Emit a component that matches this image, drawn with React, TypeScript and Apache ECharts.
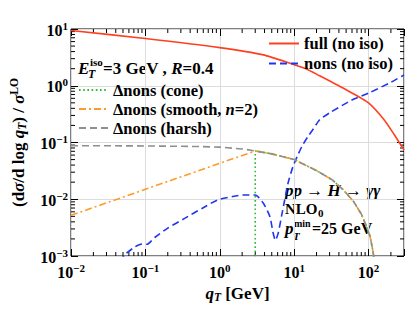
import React, { useEffect, useRef } from 'react';
import * as echarts from 'echarts';

const FONT = 'Liberation Serif, serif';

// ---- data ----
const qFull = [0.01, 0.1, 1, 3.86, 10, 14.4, 22, 50, 100, 163, 220, 300];
const vFull = [9.4, 6.8, 4.7, 3.5, 2.35, 2.0, 1.5, 0.85, 0.5, 0.25, 0.14, 0.074];

const qNons = [0.045, 0.054, 0.073, 0.09, 0.105, 0.135, 0.2, 0.337, 0.6, 0.93, 1.5, 2.09, 3.0, 3.86, 4.73, 5.2, 5.6, 6.1, 6.8, 7.46, 8.26, 9.6, 11.2, 13, 15.2, 17.7, 21.9, 29.6, 59.7, 100, 202, 300];
const vNons = [0.0008, 0.00108, 0.00146, 0.00163, 0.00161, 0.00214, 0.0031, 0.0046, 0.0071, 0.0097, 0.0112, 0.0119, 0.0119, 0.0085, 0.0049, 0.0026, 0.0019, 0.0025, 0.0052, 0.0097, 0.019, 0.037, 0.06, 0.09, 0.125, 0.166, 0.249, 0.33, 0.56, 0.74, 1.16, 1.55];

// common falling tail of the three Δnons curves (q > 3 GeV)
const qTail = [5, 10, 20, 32.5, 45, 63, 80, 94, 105, 115, 120];
const vTail = [0.063, 0.05, 0.032, 0.022, 0.015, 0.0091, 0.0055, 0.0033, 0.0022, 0.0012, 0.0008];

const qHarshHead = [0.01, 0.1, 0.5, 1, 2, 3];
const vHarshHead = [0.088, 0.087, 0.085, 0.083, 0.077, 0.071];

const qSmoothHead = [0.01, 0.1, 1, 3];
const vSmoothHead = [0.0052, 0.015, 0.043, 0.071];

const qConeHead = [3, 3];
const vConeHead = [0.0005, 0.071];

const xTickExps = [-2, -1, 0, 1, 2];
const yTickExps = [-3, -2, -1, 0, 1];

const X_MIN = 0.01;
const X_MAX = 300;
const Y_MIN = 0.001;
const Y_MAX = 10;

const zip = (q: number[], v: number[]) => q.map((x, i) => [x, v[i]]);

function supLabel(v: number, exps: number[]) {
  const l = Math.log10(v);
  const e = Math.round(l);
  if (Math.abs(l - e) > 1e-6 || exps.indexOf(e) < 0) return '';
  return `{m|10}{s|${e < 0 ? '\u2212' + -e : e}}`;
}

const tickRich = {
  m: { fontFamily: FONT, fontWeight: 'bold', fontSize: 16, lineHeight: 18, verticalAlign: 'bottom', color: '#000' },
  s: { fontFamily: FONT, fontWeight: 'bold', fontSize: 11, lineHeight: 9, verticalAlign: 'top', color: '#000' },
};

const nameRich = {
  b: { fontFamily: FONT, fontWeight: 'bold', fontSize: 17, lineHeight: 20, verticalAlign: 'middle', color: '#000' },
  i: { fontFamily: FONT, fontWeight: 'bold', fontStyle: 'italic', fontSize: 17, lineHeight: 20, verticalAlign: 'middle', color: '#000' },
  sub: { fontFamily: FONT, fontWeight: 'bold', fontStyle: 'italic', fontSize: 11.5, lineHeight: 9, verticalAlign: 'bottom', color: '#000' },
  sup: { fontFamily: FONT, fontWeight: 'bold', fontSize: 11.5, lineHeight: 9, verticalAlign: 'top', color: '#000' },
};

const minorX: number[] = [];
for (let e = -2; e <= 2; e++) for (let m = 2; m <= 9; m++) { const v = m * Math.pow(10, e); if (v < X_MAX * 0.999) minorX.push(v); }
const minorY: number[] = [];
for (let e = -3; e <= 0; e++) for (let m = 2; m <= 9; m++) minorY.push(m * Math.pow(10, e));

const tok = (size: number, italic: boolean) => ({
  fontFamily: FONT, fontWeight: 'bold', fontStyle: italic ? 'italic' : 'normal', fontSize: size,
  lineHeight: Math.round(size * 0.85), fill: '#000', color: '#000',
});

function gtext(x: number, y: number, text: string, size: number) {
  return {
    type: 'text', x, y, silent: true,
    style: {
      text, fontFamily: FONT, fontWeight: 'bold', fontSize: size, fill: '#000', verticalAlign: 'middle', align: 'left',
      lineHeight: Math.round(size * 0.85),
      rich: { b: tok(size, false), i: tok(size, true) },
    },
  };
}

export default function App() {
  const ref = useRef<HTMLDivElement>(null);
  useEffect(() => {
    if (!ref.current) return;
    const chart = echarts.init(ref.current, undefined, { renderer: 'svg' });
    const lineBase = { type: 'line', symbol: 'none', showSymbol: false, clip: true, xAxisIndex: 0, yAxisIndex: 0 };
    const tickStyle = { stroke: '#000', lineWidth: 1 };
    const LS = 16.5;
    const legendText = {
      fontFamily: FONT, fontWeight: 'bold', fontSize: LS, color: '#000',
      rich: {
        b: { fontFamily: FONT, fontWeight: 'bold', fontSize: LS, lineHeight: 17, color: '#000' },
        i: { fontFamily: FONT, fontWeight: 'bold', fontStyle: 'italic', fontSize: LS, lineHeight: 17, color: '#000' },
      },
    };
    const legendFmt = (name: string) => '{b|' + name.replace('n=2', '}{i|n}{b|=2') + '}';
    const option: any = {
      animation: false,
      backgroundColor: '#fff',
      textStyle: { fontFamily: FONT },
      grid: { left: 65, right: 3, top: 29, bottom: 53, show: true, borderColor: '#000', borderWidth: 1, backgroundColor: 'transparent' },
      xAxis: [
        {
          type: 'log', logBase: 10, min: X_MIN, max: X_MAX, position: 'bottom',
          axisLine: { show: false },
          axisTick: { show: true, inside: true, length: 7, lineStyle: { color: '#000' } },
          splitLine: { show: true, lineStyle: { color: '#dcdcdc', width: 1 } },
          axisLabel: { margin: 6, formatter: (v: number) => supLabel(v, xTickExps), rich: tickRich },
          name: '{i|q}{sub|T}{b| [GeV]}', nameLocation: 'middle', nameGap: 24,
          nameTextStyle: { rich: nameRich },
        },
        {
          type: 'log', logBase: 10, min: X_MIN, max: X_MAX, position: 'top',
          axisLine: { show: false }, splitLine: { show: false }, axisLabel: { show: false },
          axisTick: { show: true, inside: true, length: 7, lineStyle: { color: '#000' } },
        },
      ],
      yAxis: [
        {
          type: 'log', logBase: 10, min: Y_MIN, max: Y_MAX, position: 'left',
          axisLine: { show: false },
          axisTick: { show: true, inside: true, length: 7, lineStyle: { color: '#000' } },
          splitLine: { show: true, lineStyle: { color: '#dcdcdc', width: 1 } },
          axisLabel: { margin: 3, formatter: (v: number) => supLabel(v, yTickExps), rich: tickRich },
          name: '{b|(d}{i|\u03c3}{b|/d log }{i|q}{sub|T}{b|) / }{i|\u03c3}{sup|LO}',
          nameLocation: 'middle', nameRotate: 90, nameGap: 43,
          nameTextStyle: { rich: nameRich },
        },
        {
          type: 'log', logBase: 10, min: Y_MIN, max: Y_MAX, position: 'right',
          axisLine: { show: false }, splitLine: { show: false }, axisLabel: { show: false },
          axisTick: { show: true, inside: true, length: 7, lineStyle: { color: '#000' } },
        },
      ],
      legend: [
        {
          data: ['full (no iso)', 'nons (no iso)'], orient: 'vertical', left: 268, top: 35,
          itemWidth: 30, itemHeight: 14, itemGap: 3, selectedMode: false, padding: 0,
          itemStyle: { opacity: 0 },
          formatter: legendFmt,
          textStyle: legendText,
        },
        {
          data: ['\u0394nons (cone)', '\u0394nons (smooth, n=2)', '\u0394nons (harsh)'], orient: 'vertical', left: 78, top: 81.5,
          itemWidth: 29, itemHeight: 14, itemGap: 2, selectedMode: false, padding: 0,
          itemStyle: { opacity: 0 },
          formatter: legendFmt,
          textStyle: legendText,
        },
      ],
      series: [
        {
          type: 'custom', silent: true, xAxisIndex: 0, yAxisIndex: 0, clip: false,
          data: minorX.map((v) => [v, Y_MIN]),
          renderItem: (_p: any, api: any) => {
            const v = api.value(0);
            const b = api.coord([v, Y_MIN]);
            const t = api.coord([v, Y_MAX]);
            return {
              type: 'group', children: [
                { type: 'line', shape: { x1: b[0], y1: b[1], x2: b[0], y2: b[1] - 4 }, style: tickStyle },
                { type: 'line', shape: { x1: t[0], y1: t[1], x2: t[0], y2: t[1] + 4 }, style: tickStyle },
              ],
            };
          },
        },
        {
          type: 'custom', silent: true, xAxisIndex: 0, yAxisIndex: 0, clip: false,
          data: minorY.map((v) => [X_MIN, v]),
          renderItem: (_p: any, api: any) => {
            const v = api.value(1);
            const l = api.coord([X_MIN, v]);
            const r = api.coord([X_MAX, v]);
            return {
              type: 'group', children: [
                { type: 'line', shape: { x1: l[0], y1: l[1], x2: l[0] + 4, y2: l[1] }, style: tickStyle },
                { type: 'line', shape: { x1: r[0], y1: r[1], x2: r[0] - 4, y2: r[1] }, style: tickStyle },
              ],
            };
          },
        },
        {
          ...lineBase, name: 'full (no iso)', data: zip(qFull, vFull), smooth: 0.2,
          itemStyle: { color: '#ff4020' }, lineStyle: { color: '#ff4020', width: 1.6, type: 'solid' },
        },
        {
          ...lineBase, name: 'nons (no iso)', data: zip(qNons, vNons), smooth: 0.2,
          itemStyle: { color: '#1f35f0' }, lineStyle: { color: '#1f35f0', width: 1.6, type: [7, 4] },
        },
        {
          ...lineBase, name: '\u0394nons (cone)', data: zip(qConeHead.concat(qTail), vConeHead.concat(vTail)),
          itemStyle: { color: '#2dbb2d' }, lineStyle: { color: '#2dbb2d', width: 1.6, type: [1.6, 2.6] },
        },
        {
          ...lineBase, name: '\u0394nons (smooth, n=2)', data: zip(qSmoothHead.concat(qTail), vSmoothHead.concat(vTail)),
          itemStyle: { color: '#ff9a2a' }, lineStyle: { color: '#ff9a2a', width: 1.6, type: [7, 3, 2, 3] },
        },
        {
          ...lineBase, name: '\u0394nons (harsh)', data: zip(qHarshHead.concat(qTail), vHarshHead.concat(vTail)),
          itemStyle: { color: '#8f8f8f' }, lineStyle: { color: '#8f8f8f', width: 1.6, type: [7, 4] },
        },
      ],
      graphic: [
        gtext(78, 68, '{i|E}', 17),
        gtext(90, 62, '{b|iso}', 11),
        gtext(88, 74, '{i|T}', 12),
        gtext(103, 68, '{b|=3 GeV , }{i|R}{b|=0.4}', 17),
        gtext(285, 190, '{i|pp}{b| \u2192 }{i|H}{b| \u2192 }{i|\u03b3\u03b3}', 17),
        gtext(285, 208.5, '{b|NLO}', 15),
        gtext(318, 212.5, '{b|0}', 11),
        gtext(285, 228, '{i|p}', 17),
        gtext(294, 223, '{b|min}', 10),
        gtext(293, 235.5, '{i|T}', 11),
        gtext(312, 228, '{b|=25 GeV}', 16),
      ],
    };
    chart.setOption(option);
    return () => chart.dispose();
  }, []);
  return <div ref={ref} style={{ position: 'absolute', left: 0, top: 0, width: 407, height: 309 }} />;
}
